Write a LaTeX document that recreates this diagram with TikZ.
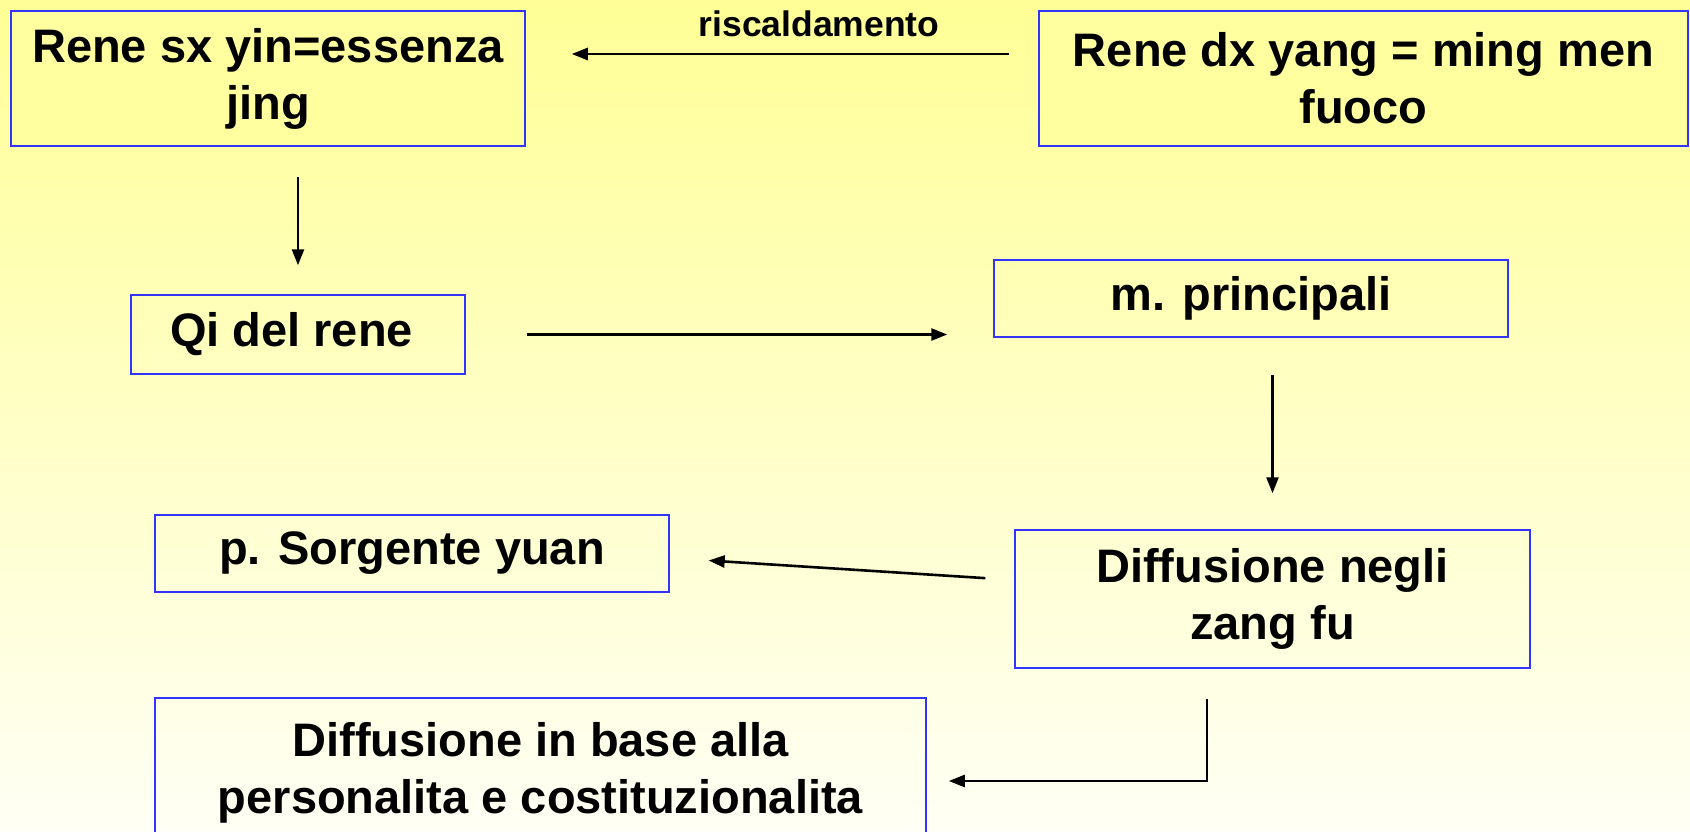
\documentclass[tikz,border=0pt]{standalone}
\usepackage{fontspec}
\setmainfont{Liberation Sans}
\usetikzlibrary{arrows.meta}
\definecolor{boxblue}{RGB}{51,51,255}
\definecolor{bgtop}{RGB}{255,255,150}
\definecolor{bgbot}{RGB}{255,255,245}
\definecolor{boxfill}{RGB}{255,255,160}
\tikzset{
  box/.style={draw=boxblue, line width=1.5pt, align=center, inner sep=0pt,
    font=\fontsize{47}{57}\selectfont\bfseries},
  arr/.style={line width=2.6pt, -{Triangle[length=16pt,width=12pt]}}
}
\begin{document}
\begin{tikzpicture}[x=1pt,y=-1pt]
\useasboundingbox (0,0) rectangle (1690,832);
\clip (0,0) rectangle (1690,832);
\shade[top color=bgtop, bottom color=bgbot] (0,0) rectangle (1690,832);

\node[box, fill=boxfill, minimum width=514pt, minimum height=135pt] (sx) at (268,78.5) {Rene sx yin=essenza\\jing};
\node[box, fill=boxfill, minimum width=649pt, minimum height=135pt] (dx) at (1363.5,78.5) {Rene dx yang = ming men\\fuoco};
\node[box, minimum width=334pt, minimum height=79pt] (qi) at (298,334.5) {Qi del rene~};
\node[box, minimum width=514pt, minimum height=77pt] (mp) at (1251,298.5) {m. principali};
\node[box, minimum width=515pt, minimum height=138pt] (zf) at (1272.5,599) {Diffusione negli\\zang fu};
\node[box, minimum width=514pt, minimum height=77pt] (sy) at (412,553.5) {p. Sorgente yuan};
\node[box, minimum width=771pt, minimum height=150pt] (pb) at (540.5,773) {Diffusione in base alla\\personalita e costituzionalita};

\node[font=\fontsize{35.5}{40}\selectfont\bfseries] (heat) at (819,24) {riscaldamento};

\draw[arr, shorten <=29pt, shorten >=46pt] ([yshift=24.5pt]dx.west) -- ([yshift=24.5pt]sx.east);
\draw[arr, shorten <=30pt, shorten >=29pt] (qi.north |- sx.south) -- (qi.north);
\draw[arr, shorten <=61pt, shorten >=46pt] (qi.east) -- (qi.east -| mp.west);
\draw[arr, shorten <=37pt, shorten >=36pt] (zf.north |- mp.south) -- (zf.north);
\draw[arr, shorten <=29pt, shorten >=39pt] ([yshift=19pt]zf.west) -- ([yshift=-4.5pt]sy.east);
\draw[arr, shorten <=30pt, shorten >=22pt] ([xshift=-65.5pt]zf.south) |- ([yshift=-8pt]pb.east);

\end{tikzpicture}
\end{document}
